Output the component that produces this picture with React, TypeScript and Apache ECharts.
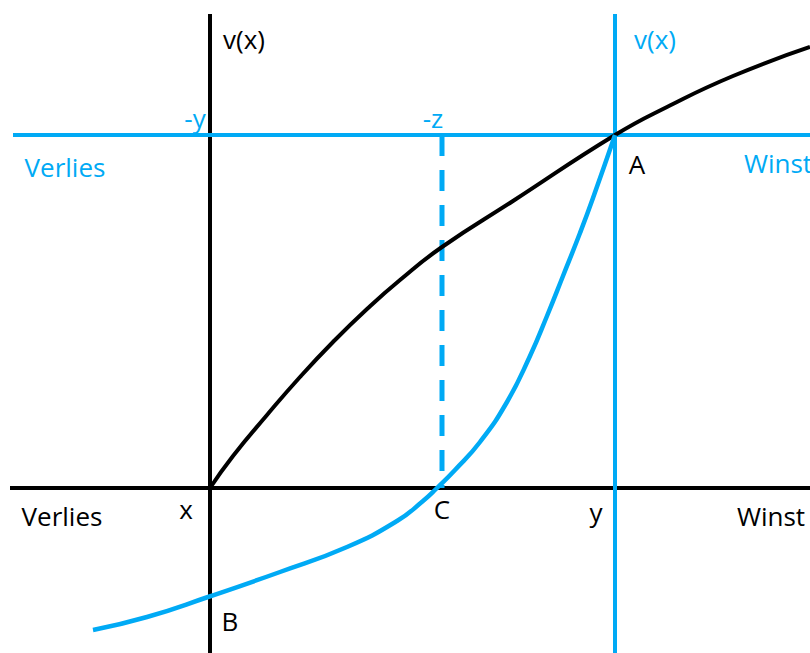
import React, { useEffect, useRef } from "react";
import * as echarts from "echarts";

// Data space: origin at the black axes' crossing, units = pixels of the diagram
const blackCurve: number[][] = [
  [0, 0], [23, 32], [57, 73], [90, 111], [123, 146], [157, 179], [190, 208],
  [232, 241], [303, 287], [405, 353], [457, 381], [523, 412], [600, 441],
];
const blueCurve: number[][] = [
  [-117, -142], [-63, -129], [-2, -109], [70, -84], [137, -59], [187, -33],
  [213, -13], [227, 0], [245, 18], [270, 46], [297, 86], [320, 132],
  [337, 172], [353, 212], [370, 255], [383, 290], [405, 353],
];
const blackAxisV: number[][] = [[0, -170], [0, 474]];
const blackAxisH: number[][] = [[-200, 0], [610, 0]];
const blueAxisV: number[][] = [[405, -170], [405, 474]];
const blueAxisH: number[][] = [[-197, 353], [610, 353]];
const dashedZ: number[][] = [[232, 353], [232, 0]];

const BLUE = "#00AAF5";
const BLACK = "#000000";
const FONT = "'Open Sans', 'Noto Sans', sans-serif";

export default function App() {
  const ref = useRef<HTMLDivElement>(null);
  useEffect(() => {
    if (!ref.current) return;
    const chart = echarts.init(ref.current, null, { renderer: "svg" });
    const line = (data: number[][], color: string, width: number, extra: any = {}) => ({
      type: "line",
      data,
      symbol: "none",
      silent: true,
      lineStyle: { color, width, ...extra },
      clip: false,
    });
    const txt = (text: string, x: number, y: number, color: string) => ({
      type: "text",
      x,
      y,
      style: {
        text,
        fill: color,
        font: `26px ${FONT}`,
        align: "center",
        verticalAlign: "middle",
      },
    });
    chart.setOption({
      animation: false,
      grid: { left: 0, right: 0, top: 0, bottom: 0 },
      xAxis: { type: "value", min: -210, max: 600, show: false },
      yAxis: { type: "value", min: -165, max: 488, show: false },
      series: [
        line(blackAxisH, BLACK, 4),
        line(blackAxisV, BLACK, 4),
        line(blueAxisH, BLUE, 4),
        line(blueAxisV, BLUE, 4),
        line(dashedZ, BLUE, 5, { type: [21, 14] }),
        { ...line(blackCurve, BLACK, 4), smooth: 0.5 },
        { ...line(blueCurve, BLUE, 4.5), smooth: 0.5 },
      ],
      graphic: [
        txt("v(x)", 244, 39, BLACK),
        txt("v(x)", 655, 39, BLUE),
        txt("-y", 195, 118, BLUE),
        txt("-z", 433, 118, BLUE),
        txt("Verlies", 65, 167, BLUE),
        txt("Winst", 778, 163, BLUE),
        txt("A", 637, 164, BLACK),
        txt("Verlies", 62, 516, BLACK),
        txt("x", 186, 509, BLACK),
        txt("C", 442, 509, BLACK),
        txt("y", 596, 512, BLACK),
        txt("Winst", 771, 516, BLACK),
        txt("B", 230, 621, BLACK),
      ],
    });
    return () => chart.dispose();
  }, []);
  return (
    <div
      ref={ref}
      style={{ position: "absolute", left: 0, top: 0, width: 810, height: 653, background: "#fff" }}
    />
  );
}
